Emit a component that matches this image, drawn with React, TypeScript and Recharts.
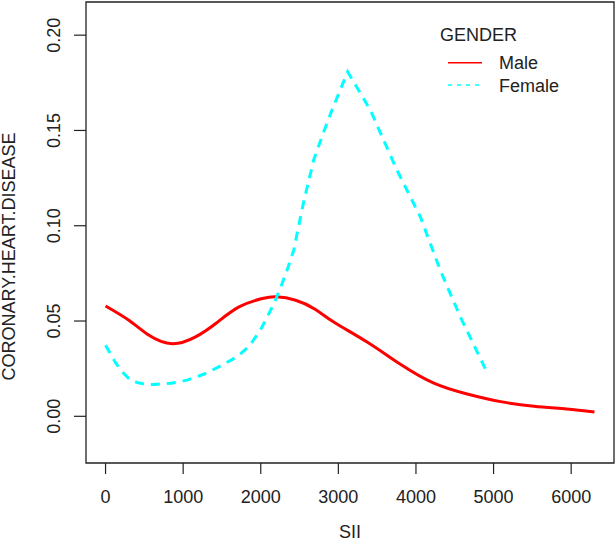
import React from "react";
import { LineChart, Line, XAxis, YAxis, ReferenceArea } from "recharts";

// values
const maleSii = [0, 300, 560, 860, 1160, 1420, 1720, 2020, 2200, 2450, 2700, 2940, 3370, 3800, 4230, 4660, 5090, 5520, 5940, 6300];
const maleRisk = [0.0579, 0.0504, 0.0425, 0.0381, 0.0417, 0.0487, 0.0574, 0.0618, 0.0627, 0.0609, 0.0562, 0.0495, 0.039, 0.0273, 0.0174, 0.0117, 0.0077, 0.0053, 0.0038, 0.0023];

const femaleSii = [0, 60, 130, 215, 300, 400, 515, 620, 730, 840, 944, 1050, 1160, 1270, 1373, 1470, 1550, 1640, 1717, 1800, 1870, 1950, 2017, 2100, 2189, 2275, 2350, 2425, 2550, 2682, 2800, 2918, 3120, 3412, 3755, 4056, 4313, 4571, 4893];
const femaleRisk = [0.0373, 0.033, 0.028, 0.0233, 0.0198, 0.0178, 0.0168, 0.0167, 0.017, 0.0174, 0.018, 0.019, 0.0205, 0.0222, 0.0242, 0.0262, 0.028, 0.03, 0.032, 0.035, 0.038, 0.0425, 0.0469, 0.0535, 0.0609, 0.0697, 0.078, 0.0872, 0.112, 0.1345, 0.148, 0.1607, 0.1808, 0.1607, 0.1292, 0.1047, 0.0767, 0.0522, 0.025];

const xTicks = [0, 1000, 2000, 3000, 4000, 5000, 6000];
const yTicks = [0, 0.05, 0.1, 0.15, 0.2];
const xDomain = [-252, 6552];
const yDomain = [-0.0245, 0.2174];

const FONT = "'Liberation Sans', Arial, Helvetica, sans-serif";
const INK = "#222";

const maleData = maleSii.map((x, i) => ({ x, y: maleRisk[i] }));
const femaleData = femaleSii.map((x, i) => ({ x, y: femaleRisk[i] }));

function YTick({ x, y, payload }: any) {
  const bx = x - 13.5;
  return (
    <text
      x={bx}
      y={y}
      transform={`rotate(-90, ${bx}, ${y})`}
      textAnchor="middle"
      fontSize={18}
      fontFamily={FONT}
      fill={INK}
    >
      {Number(payload.value).toFixed(2)}
    </text>
  );
}

function Legend() {
  return (
    <svg
      width={616}
      height={120}
      style={{ position: "absolute", left: 0, top: 0, pointerEvents: "none" }}
    >
      <text x={440} y={40.5} fontSize={18} fontFamily={FONT} fill={INK}>
        GENDER
      </text>
      <line x1={448} x2={482} y1={62.7} y2={62.7} stroke="#ff0000" strokeWidth={1.5} />
      <text x={499} y={69.3} fontSize={18} fontFamily={FONT} fill={INK}>
        Male
      </text>
      <line x1={448} x2={482} y1={85} y2={85} stroke="#00ffff" strokeWidth={1.5} strokeDasharray="4 5" />
      <text x={499} y={92.3} fontSize={18} fontFamily={FONT} fill={INK}>
        Female
      </text>
    </svg>
  );
}

export default function App() {
  return (
    <div style={{ position: "absolute", left: 0, top: 0, width: 616, height: 549, background: "#fff" }}>
      <LineChart width={616} height={549} margin={{ top: 2, right: 2, left: 0, bottom: 0 }}>
        <XAxis
          dataKey="x"
          type="number"
          domain={xDomain}
          ticks={xTicks}
          allowDataOverflow
          axisLine={false}
          tickSize={11}
          tickMargin={16}
          tickLine={{ stroke: INK, strokeWidth: 1.2 }}
          tick={{ fontSize: 18, fontFamily: FONT, fill: INK }}
          height={86}
          label={({ viewBox }: any) => (
            <text
              x={viewBox.x + viewBox.width / 2}
              y={538}
              textAnchor="middle"
              fontSize={18}
              fontFamily={FONT}
              fill={INK}
            >
              SII
            </text>
          )}
        />
        <YAxis
          type="number"
          domain={yDomain}
          ticks={yTicks}
          allowDataOverflow
          axisLine={false}
          tickSize={12}
          tickMargin={0}
          tickLine={{ stroke: INK, strokeWidth: 1.2 }}
          tick={<YTick />}
          width={86}
          label={({ viewBox }: any) => {
            const cx = 15;
            const cy = viewBox.y + viewBox.height / 2 + 24;
            return (
              <text
                x={cx}
                y={cy}
                transform={`rotate(-90, ${cx}, ${cy})`}
                textAnchor="middle"
                fontSize={18}
                fontFamily={FONT}
                fill={INK}
              >
                CORONARY.HEART.DISEASE
              </text>
            );
          }}
        />
        <ReferenceArea
          x1={xDomain[0]}
          x2={xDomain[1]}
          y1={yDomain[0]}
          y2={yDomain[1]}
          fill="none"
          fillOpacity={0}
          stroke={INK}
          strokeWidth={1.3}
          ifOverflow="visible"
        />
        <Line
          data={maleData}
          dataKey="y"
          type="natural"
          stroke="#ff0000"
          strokeWidth={3}
          dot={false}
          isAnimationActive={false}
        />
        <Line
          data={femaleData}
          dataKey="y"
          type="linear"
          stroke="#00ffff"
          strokeWidth={3}
          strokeDasharray="9 7"
          dot={false}
          isAnimationActive={false}
        />
      </LineChart>
      <Legend />
    </div>
  );
}
